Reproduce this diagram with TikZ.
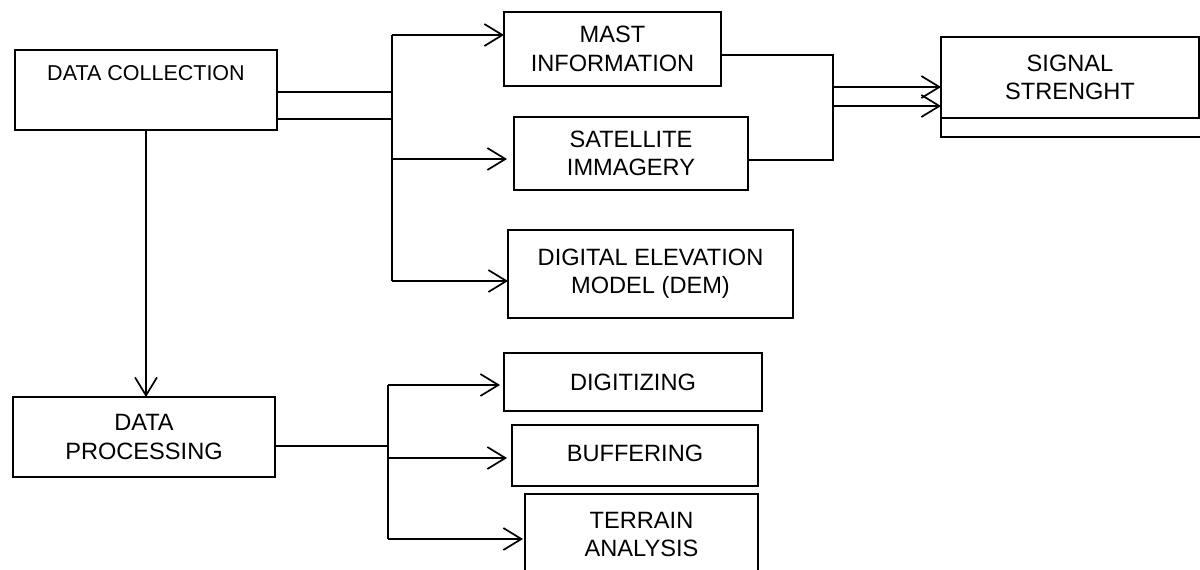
\documentclass[tikz,border=0pt]{standalone}
\usepackage{fontspec}
\setmainfont{Liberation Sans}
\usetikzlibrary{arrows.meta}
\begin{document}
\begin{tikzpicture}[x=1pt,y=-1pt,
  line width=1.7pt,
  box/.style={draw=black,rectangle,inner sep=0pt,outer sep=0pt,align=center,
    font=\fontsize{23.6}{28.3}\selectfont},
  txt/.style={inner sep=0pt,align=center,font=\fontsize{23.6}{28.3}\selectfont},
  arr/.style={-{Straight Barb[length=18pt,width=22pt,line width=1.7pt]}}]
\useasboundingbox (0,0) rectangle (1200,570);
\clip (0,0) rectangle (1200,570);
% boxes
\node[box,minimum width=262pt,minimum height=80pt] (dc) at (146,90) {};
\node[txt,font=\fontsize{21.5}{26}\selectfont] (dctext) at (146,73) {DATA COLLECTION};
\node[box,minimum width=217pt,minimum height=74pt] (mast) at (612.5,49) {MAST\\INFORMATION};
\node[box,minimum width=234pt,minimum height=73pt] (sat) at (631,153.5) {SATELLITE\\IMMAGERY};
\node[box,minimum width=285pt,minimum height=88pt] (dem) at (650.5,274) {DIGITAL ELEVATION\\MODEL (DEM)};
\node[box,minimum width=258pt,minimum height=81pt] (sig) at (1070,77.5) {SIGNAL\\STRENGHT};
\draw (sig.south west) -- ++(0,19) -- ++(270,0);
\node[box,minimum width=262pt,minimum height=80pt] (dp) at (144,437) {DATA\\PROCESSING};
\node[box,minimum width=258pt,minimum height=58pt] (dig) at (633,382) {DIGITIZING};
\node[box,minimum width=246pt,minimum height=61pt] (buf) at (635,455.5) {\raisebox{4pt}{BUFFERING}};
\node[box,minimum width=233pt,minimum height=81pt] (ter) at (641.5,534.5) {TERRAIN\\ANALYSIS};
% junction coordinates
\coordinate (s1) at (392,35);
\coordinate (j1) at (392,92);
\coordinate (j2) at (392,119);
\coordinate (s2) at (392,159);
\coordinate (s3) at (392,281);
\coordinate (m1) at (833,55);
\coordinate (m2) at (833,160);
\coordinate (m3) at (833,87);
\coordinate (m4) at (833,106);
\coordinate (p1) at (388,385);
\coordinate (p2) at (388,446);
\coordinate (p3) at (388,458);
\coordinate (p4) at (388,539);
% top branch
\draw (dc.east |- j1) -- (j1);
\draw (dc.east |- j2) -- (j2);
\draw (s1) -- (s3);
\draw[arr] (s1) -- (mast.west |- s1);
\draw[arr,shorten >=7pt] (s2) -- (sat.west |- s2);
\draw[arr] (s3) -- (dem.west |- s3);
\draw (mast.east |- m1) -- (m1) -- (m2) -- (sat.east |- m2);
\draw[arr] (m3) -- (sig.west |- m3);
\draw[arr] (m4) -- (sig.west |- m4);
% down
\draw[arr] (dc.south) -- (dc.south |- dp.north);
% bottom branch
\draw (dp.east |- p2) -- (p2);
\draw (p1) -- (p4);
\draw[arr,shorten >=4pt] (p1) -- (dig.west |- p1);
\draw[arr,shorten >=5pt] (p3) -- (buf.west |- p3);
\draw[arr,shorten >=2pt] (p4) -- (ter.west |- p4);
\end{tikzpicture}
\end{document}
